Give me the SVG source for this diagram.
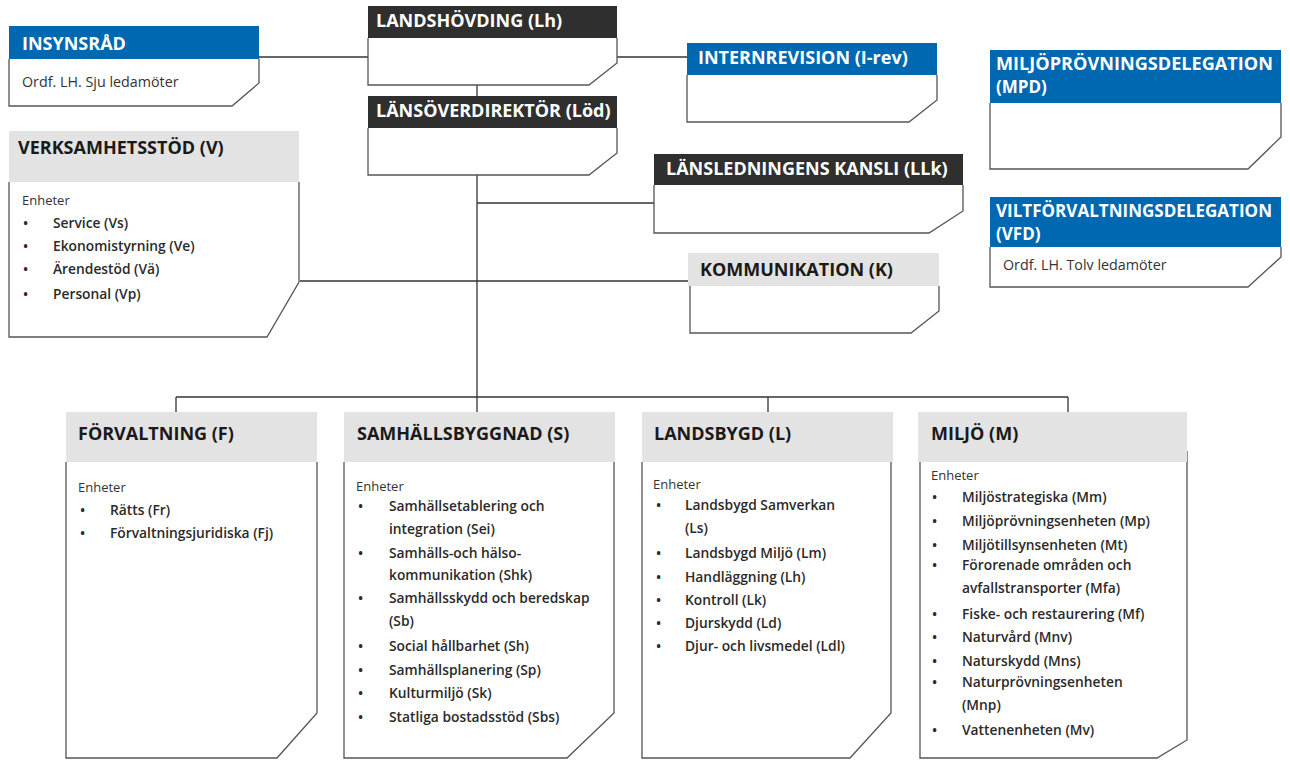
<svg xmlns="http://www.w3.org/2000/svg" width="1290" height="760" viewBox="0 0 1290 760">
<style>
.body{fill:#fff;stroke:#555;stroke-width:1.3}
.hb{fill:#0067b1}
.hd{fill:#2f2f2f}
.hg{fill:#e3e3e3}
.tw{font-family:"Open Sans","Noto Sans",sans-serif;font-weight:700;font-size:18px;fill:#fff}
.tl{font-family:"Open Sans","Noto Sans",sans-serif;font-weight:700;font-size:17px;fill:#fff}
.tk{font-family:"Open Sans","Noto Sans",sans-serif;font-weight:700;font-size:18px;fill:#1a1a1a}
.sm{font-family:"Open Sans","Noto Sans",sans-serif;font-size:13px;fill:#333}
.or{font-family:"Open Sans","Noto Sans",sans-serif;font-size:14.3px;fill:#333}
.it{font-family:"Open Sans","Noto Sans",sans-serif;font-weight:600;font-size:13.8px;fill:#2a2a2a}
.con{stroke:#333;stroke-width:1.3;fill:none}
</style>
<rect width="1290" height="760" fill="#fff"/>
<g id="connectors">
<line class="con" x1="259" y1="57" x2="368" y2="57"/>
<line class="con" x1="617" y1="57" x2="687" y2="57"/>
<line class="con" x1="477" y1="85" x2="477" y2="96"/>
<line class="con" x1="477" y1="175" x2="477" y2="397"/>
<line class="con" x1="477" y1="203" x2="654" y2="203"/>
<line class="con" x1="300" y1="281" x2="688" y2="281"/>
<line class="con" x1="176" y1="397" x2="1068" y2="397"/>
<line class="con" x1="176" y1="397" x2="176" y2="412"/>
<line class="con" x1="477" y1="397" x2="477" y2="412"/>
<line class="con" x1="768" y1="397" x2="768" y2="412"/>
<line class="con" x1="1068" y1="397" x2="1068" y2="412"/>
</g>
<g id="insynsrad">
<path class="body" d="M9,59 V106 H232 L259,83 V59"/>
<rect class="hb" x="9" y="26" width="250" height="33"/>
<text class="tw" x="22" y="49.5">INSYNSRÅD</text>
<text class="or" x="22" y="87">Ordf. LH. Sju ledamöter</text>
</g>
<g id="landshovding">
<path class="body" d="M368,38 V85 H589 L617,63 V38"/>
<rect class="hd" x="368" y="6" width="249" height="32"/>
<text class="tw" x="376" y="27">LANDSHÖVDING (Lh)</text>
</g>
<g id="lansoverdirektor">
<path class="body" d="M368,128 V175 H589 L617,153 V128"/>
<rect class="hd" x="368" y="96" width="249" height="32"/>
<text class="tw" x="376" y="117">LÄNSÖVERDIREKTÖR (Löd)</text>
</g>
<g id="internrevision">
<path class="body" d="M687,75 V122 H909 L937,100 V75"/>
<rect class="hb" x="687" y="43" width="250" height="32"/>
<text class="tw" x="698" y="64">INTERNREVISION (I-rev)</text>
</g>
<g id="lansledningens-kansli">
<path class="body" d="M654,185 V233 H929 L963,211 V185"/>
<rect class="hd" x="654" y="154" width="309" height="31"/>
<text class="tw" x="666" y="175">LÄNSLEDNINGENS KANSLI (LLk)</text>
</g>
<g id="kommunikation">
<path class="body" d="M690,286 V333 H911 L939,311 V286"/>
<rect class="hg" x="688" y="253" width="251" height="33"/>
<text class="tk" x="700" y="276">KOMMUNIKATION (K)</text>
</g>
<g id="mpd">
<path class="body" d="M990,103 V169 H1248 L1281,137 V103"/>
<rect class="hb" x="990" y="50" width="291" height="53"/>
<text class="tl" x="996" y="70" textLength="277" lengthAdjust="spacingAndGlyphs">MILJÖPRÖVNINGSDELEGATION</text>
<text class="tl" x="996" y="93">(MPD)</text>
</g>
<g id="vfd">
<path class="body" d="M990,247 V287 H1248 L1281,257 V247"/>
<rect class="hb" x="990" y="197" width="291" height="50"/>
<text class="tl" x="996" y="217" textLength="276" lengthAdjust="spacingAndGlyphs">VILTFÖRVALTNINGSDELEGATION</text>
<text class="tl" x="996" y="240">(VFD)</text>
<text class="or" x="1003" y="270">Ordf. LH. Tolv ledamöter</text>
</g>
<g id="verksamhetsstod">
<path class="body" d="M9,182 V337 H267 L299,282 V182"/>
<rect class="hg" x="9" y="131" width="290" height="51"/>
<text class="tk" x="18" y="154">VERKSAMHETSSTÖD (V)</text>
<text class="sm" x="22" y="205">Enheter</text>
<g class="it">
<text x="23" y="228">•</text><text x="53" y="228">Service (Vs)</text>
<text x="23" y="251">•</text><text x="53" y="251">Ekonomistyrning (Ve)</text>
<text x="23" y="274">•</text><text x="53" y="274">Ärendestöd (Vä)</text>
<text x="23" y="299">•</text><text x="53" y="299">Personal (Vp)</text>
</g>
</g>
<g id="forvaltning">
<path class="body" d="M66,462 V758 H277 L317,713 V462"/>
<rect class="hg" x="66" y="412" width="251" height="50"/>
<text class="tk" x="78" y="440">FÖRVALTNING (F)</text>
<text class="sm" x="78" y="492">Enheter</text>
<g class="it">
<text x="80" y="515">•</text><text x="110" y="515">Rätts (Fr)</text>
<text x="80" y="538">•</text><text x="110" y="538">Förvaltningsjuridiska (Fj)</text>
</g>
</g>
<g id="samhallsbyggnad">
<path class="body" d="M344,462 V758 H567 L614,713 V462"/>
<rect class="hg" x="344" y="412" width="271" height="50"/>
<text class="tk" x="357" y="440">SAMHÄLLSBYGGNAD (S)</text>
<text class="sm" x="356" y="491">Enheter</text>
<g class="it">
<text x="358" y="511">•</text><text x="389" y="511">Samhällsetablering och</text>
<text x="389" y="534">integration (Sei)</text>
<text x="358" y="558">•</text><text x="389" y="558">Samhälls-och hälso-</text>
<text x="389" y="580">kommunikation (Shk)</text>
<text x="358" y="603">•</text><text x="389" y="603">Samhällsskydd och beredskap</text>
<text x="389" y="626">(Sb)</text>
<text x="358" y="651">•</text><text x="389" y="651">Social hållbarhet (Sh)</text>
<text x="358" y="675">•</text><text x="389" y="675">Samhällsplanering (Sp)</text>
<text x="358" y="698">•</text><text x="389" y="698">Kulturmiljö (Sk)</text>
<text x="358" y="722">•</text><text x="389" y="722">Statliga bostadsstöd (Sbs)</text>
</g>
</g>
<g id="landsbygd">
<path class="body" d="M642,462 V758 H850 L891,713 V462"/>
<rect class="hg" x="642" y="412" width="251" height="50"/>
<text class="tk" x="654" y="440">LANDSBYGD (L)</text>
<text class="sm" x="653" y="489">Enheter</text>
<g class="it">
<text x="656" y="510">•</text><text x="685" y="510">Landsbygd Samverkan</text>
<text x="685" y="533">(Ls)</text>
<text x="656" y="558">•</text><text x="685" y="558">Landsbygd Miljö (Lm)</text>
<text x="656" y="582">•</text><text x="685" y="582">Handläggning (Lh)</text>
<text x="656" y="605">•</text><text x="685" y="605">Kontroll (Lk)</text>
<text x="656" y="628">•</text><text x="685" y="628">Djurskydd (Ld)</text>
<text x="656" y="651">•</text><text x="685" y="651">Djur- och livsmedel (Ldl)</text>
</g>
</g>
<g id="miljo">
<path class="body" d="M920,462 V758 H1157 L1187,740 V451"/>
<rect class="hg" x="918" y="412" width="269" height="50"/>
<text class="tk" x="931" y="440">MILJÖ (M)</text>
<text class="sm" x="931" y="480">Enheter</text>
<g class="it">
<text x="932" y="502">•</text><text x="962" y="502">Miljöstrategiska (Mm)</text>
<text x="932" y="526">•</text><text x="962" y="526">Miljöprövningsenheten (Mp)</text>
<text x="932" y="550">•</text><text x="962" y="550">Miljötillsynsenheten (Mt)</text>
<text x="932" y="570">•</text><text x="962" y="570">Förorenade områden och</text>
<text x="962" y="593">avfallstransporter (Mfa)</text>
<text x="932" y="619">•</text><text x="962" y="619">Fiske- och restaurering (Mf)</text>
<text x="932" y="642">•</text><text x="962" y="642">Naturvård (Mnv)</text>
<text x="932" y="666">•</text><text x="962" y="666">Naturskydd (Mns)</text>
<text x="932" y="687">•</text><text x="962" y="687">Naturprövningsenheten</text>
<text x="962" y="710">(Mnp)</text>
<text x="932" y="735">•</text><text x="962" y="735">Vattenenheten (Mv)</text>
</g>
</g>
</svg>
